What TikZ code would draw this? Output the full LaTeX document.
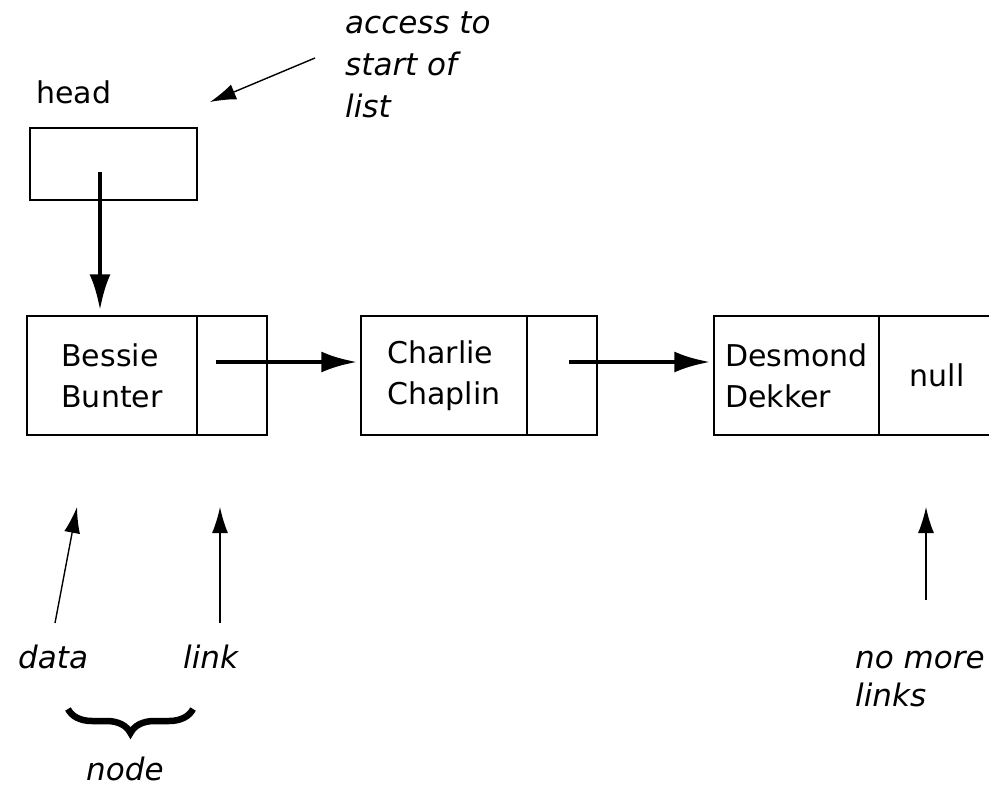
\documentclass[tikz,border=0pt]{standalone}
\usepackage{fontspec}
\setmainfont{DejaVu Sans}
\usetikzlibrary{arrows.meta,decorations.pathreplacing}
\begin{document}
\begin{tikzpicture}[x=1pt,y=-1pt,
  every node/.style={font=\fontsize{30}{41}\selectfont, inner sep=0pt},
  cell/.style={draw, line width=1.5pt, minimum height=119pt, align=left},
  note/.style={font=\fontsize{31}{42}\selectfont\itshape, align=left, anchor=base west},
  bigarrow/.style={line width=4.5pt, -{Latex[length=36pt,width=21pt]}},
  thinarrow/.style={line width=1.4pt, -{Latex[length=26pt,width=16pt]}}]

% page
\fill[white] (0,0) rectangle (989,787);
\useasboundingbox (0,0) rectangle (989,787);

% head pointer
\node[anchor=base west] (headlbl) at (36,103) {head};
\node[draw, line width=1.5pt, minimum width=167pt, minimum height=72pt] (head) at (113.5,164) {};

% list nodes: data cell + link cell
\node[cell, minimum width=170pt] (d1) at (112,375.5) {Bessie\\Bunter};
\node[cell, minimum width=70pt]  (l1) at (232,375.5) {};
\node[cell, minimum width=166pt] (d2) at (444,375.5) {Charlie\\Chaplin};
\node[cell, minimum width=70pt]  (l2) at (562,375.5) {};
\node[cell, minimum width=165pt] (d3) at (796.5,375.5) {Desmond\\Dekker};
\node[cell, minimum width=116pt] (l3) at (937,375.5) {null};

% pointers
\coordinate (hp) at (100,172);
\coordinate (p1) at (216,362);
\coordinate (p2) at (569,362);
\draw[bigarrow, shorten >=5pt] (hp) -- (hp |- d1.north);
\draw[bigarrow, shorten >=3pt] (p1) -- (p1 -| d2.west);
\draw[bigarrow, shorten >=3pt] (p2) -- (p2 -| d3.west);

% annotations (multi-line notes are placed by their last baseline)
\node[note] (access) at (345,117) {access to\\start of\\list};
\coordinate (accesstail) at (315,58);
\coordinate (accesstip) at (210,102);
\draw[thinarrow] (accesstail) -- (accesstip);

\node[note] (datalbl) at (18,668) {data};
\node[note] (linklbl) at (183,668) {link};
\node[note] (nomore) at (855,706) {no more\\[-4pt]links};
\node[note] (nodelbl) at (86,780) {node};

\coordinate (datatail) at (55,623);
\coordinate (datatip) at (77,507);
\coordinate (linktail) at (220,623);
\coordinate (linktip) at (220,507);
\coordinate (nulltail) at (926,600);
\coordinate (nulltip) at (926,507);
\draw[thinarrow] (datatail) -- (datatip);
\draw[thinarrow] (linktail) -- (linktip);
\draw[thinarrow] (nulltail) -- (nulltip);

% brace grouping data and link
\draw[line width=6.5pt, decorate, decoration={brace, amplitude=24pt}] (193,709) -- (68,709);
\end{tikzpicture}
\end{document}
